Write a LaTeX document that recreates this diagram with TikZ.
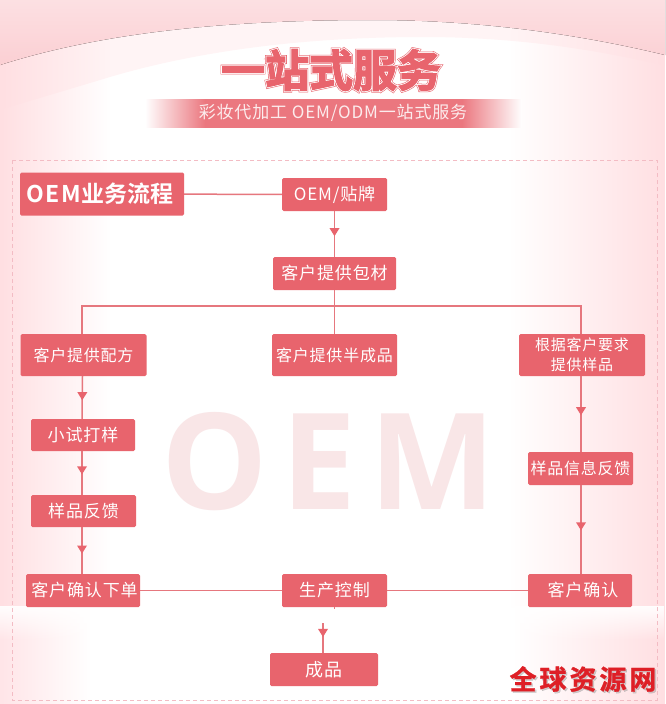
\documentclass[tikz,border=0pt]{standalone}
\usepackage{fontspec}
\usetikzlibrary{arrows.meta,decorations.markings,positioning,calc,fadings}
\setmainfont{Noto Sans CJK SC}
\newfontfamily\cjkreg[LetterSpace=5]{Noto Sans CJK SC}
\newfontfamily\cjkbold{Noto Sans CJK SC Bold}
\newfontfamily\cjkblack[FakeBold=1]{Noto Sans CJK SC Bold}
\newfontfamily\titA[FakeBold=9]{Noto Sans CJK SC Bold}
\newfontfamily\titB[FakeBold=6.5]{Noto Sans CJK SC Bold}
\newfontfamily\titC[FakeBold=3]{Noto Sans CJK SC Bold}
\newfontfamily\markfont{Open Sans}
\definecolor{boxred}{HTML}{E8646D}
\definecolor{linered}{HTML}{E6777E}
\definecolor{sidepink}{HTML}{FFDFE2}
\definecolor{toppink}{HTML}{FBCFD3}
\definecolor{dashpink}{HTML}{F3BCC4}
\definecolor{markpink}{HTML}{F9E6E7}
\definecolor{stampred}{HTML}{DE1F26}
\pgfdeclarehorizontalshading{bandfade}{100bp}{color(0bp)=(white); color(25bp)=(white); color(33bp)=(boxred!88); color(67bp)=(boxred!88); color(75bp)=(white); color(100bp)=(white)}
\tikzset{
  flowbox/.style={fill=boxred,rounded corners=1.5pt,inner sep=0pt,text=white,align=center,font=\cjkreg\fontsize{16}{18}\selectfont},
  bigbox/.style={flowbox,font=\cjkreg\fontsize{17}{20}\selectfont},
  conn/.style={draw=linered,line width=1.5pt},
  arr/.style={conn,postaction={decorate},decoration={markings,mark=at position #1 with {\fill[boxred] (3.5pt,0) -- (-4.5pt,5pt) -- (-4.5pt,-5pt) -- cycle;}}}
}
\begin{document}
\begin{tikzpicture}[x=1pt,y=-1pt]
\useasboundingbox (0,0) rectangle (665,704);
\fill[white] (0,0) rectangle (665,704);
% pale band under the top arc
\fill[white!65!sidepink] (0,65) .. controls (110,30) and (240,20) .. (373,20) .. controls (470,20) and (570,32) .. (665,55) -- (665,66) .. controls (590,48) and (510,37) .. (423,37) .. controls (300,37) and (190,52) .. (100,80) -- (0,110) -- cycle;
% side fades
\fill[sidepink,path fading=east] (0,0) rectangle (110,608);
\fill[sidepink,path fading=west] (510,0) rectangle (665,608);
\fill[sidepink!80,path fading=east] (0,608) rectangle (90,704);
\fill[sidepink,path fading=west] (515,608) rectangle (665,704);
\fill[white,opacity=.95,path fading=south] (0,606) rectangle (665,640);
% top arc
\fill[top color=toppink!65,bottom color=toppink] (0,0) -- (665,0) -- (665,55) .. controls (570,32) and (470,20) .. (373,20) .. controls (240,20) and (110,30) .. (0,65) -- cycle;
% subtitle band
\shade[shading=bandfade] (145,99) rectangle (522,127);
% dashed frame
\draw[dashpink,line width=1pt,dash pattern=on 4pt off 3pt] (12,160) rectangle (657,700);
% watermark
\node[inner sep=0pt,text=markpink,font=\markfont\bfseries\fontsize{134}{140}\selectfont] (wm) at (329,462) {\addfontfeature{LetterSpace=10}OEM};
% title
\node[text=boxred,inner sep=0pt] (t1) at (331,70) {\titA\fontsize{44}{48}\selectfont 一站式服务};
\node[text=white,inner sep=0pt] (t2) at (331,70) {\titB\fontsize{44}{48}\selectfont 一站式服务};
\node[text=boxred,inner sep=0pt] (t3) at (331,70) {\titC\fontsize{44}{48}\selectfont 一站式服务};
\node[text=white!88!boxred,inner sep=0pt] (sub) at (333,113) {\cjkreg\fontsize{17}{19}\selectfont 彩妆代加工 OEM/ODM一站式服务};
% boxes
\node[flowbox,font=\cjkbold\fontsize{23}{26}\selectfont,minimum width=164pt,minimum height=43pt] (head) at (102,194) {\hspace*{-4pt}{\addfontfeature{LetterSpace=8}OEM}业务流程};
\node[bigbox,minimum width=105pt,minimum height=33pt] (oem) at (334.5,194.5) {OEM/贴牌};
\node[bigbox,minimum width=123pt,minimum height=33pt] (baocai) at (334.5,273.5) {客户提供包材};
\node[flowbox,minimum width=126pt,minimum height=42pt] (peifang) at (83.5,355) {客户提供配方};
\node[flowbox,minimum width=125pt,minimum height=42pt] (banpin) at (334.5,355) {客户提供半成品};
\node[flowbox,font=\cjkreg\fontsize{15}{18}\selectfont,minimum width=126pt,minimum height=42pt] (yangpin) at (582,355) {根据客户要求\\[2pt]提供样品};
\node[bigbox,minimum width=104pt,minimum height=32pt] (shiyang) at (83,435) {小试打样};
\node[bigbox,minimum width=105pt,minimum height=32pt] (fankui) at (83.5,511) {样品反馈};
\node[flowbox,minimum width=105pt,minimum height=33pt] (xinxi) at (580.5,468.5) {样品信息反馈};
\node[bigbox,minimum width=114pt,minimum height=33pt] (xiadan) at (83,590.5) {\hspace*{3pt}客户确认下单};
\node[bigbox,minimum width=105pt,minimum height=33pt] (kongzhi) at (334.5,590.5) {生产控制};
\node[bigbox,minimum width=104pt,minimum height=33pt] (queren) at (580,590.5) {\hspace*{6pt}客户确认};
\node[flowbox,font=\cjkreg\fontsize{18}{20}\selectfont,minimum width=108pt,minimum height=33pt] (chengpin) at (324,669.5) {成品};
% connectors
\coordinate (bus) at (335,306);
\coordinate (endin) at (323,623);
\draw[conn] (head) -- (oem);
\draw[arr=0.47] (oem.south) -- (baocai.north);
\draw[conn] (baocai.south) -- (banpin.north);
\draw[conn] (peifang.north -| 82,0) |- (bus) -| (yangpin.north -| 581,0);
\draw[arr=0.48] ($(peifang.south)+(-1,0)$) -- ($(shiyang.north)+(-1,0)$);
\draw[arr=0.45] ($(shiyang.south)+(-1,0)$) -- ($(fankui.north)+(-1.5,0)$);
\draw[arr=0.49] ($(fankui.south)+(-1.5,0)$) -- ($(xiadan.north)+(-1,0)$);
\draw[arr=0.47] (yangpin.south -| 581,0) -- (xinxi.north -| 581,0);
\draw[arr=0.47] (xinxi.south -| 581,0) -- (queren.north -| 581,0);
\draw[conn] (xiadan) -- (kongzhi);
\draw[conn] (kongzhi) -- (queren);
\draw[conn] (kongzhi.south) -- ++(0,2);
\draw[arr=0.35] (endin) -- (chengpin.north -| endin);
% stamp
\node[text=black!45,opacity=.4,inner sep=0pt,font=\cjkblack\fontsize{27}{30}\selectfont] (stampshadow) at (584.5,680.5) {\addfontfeature{LetterSpace=11}全球资源网};
\node[text=stampred,inner sep=0pt,font=\cjkblack\fontsize{27}{30}\selectfont] (stamp) at (583,679) {\addfontfeature{LetterSpace=11}全球资源网};
\end{tikzpicture}
\end{document}
